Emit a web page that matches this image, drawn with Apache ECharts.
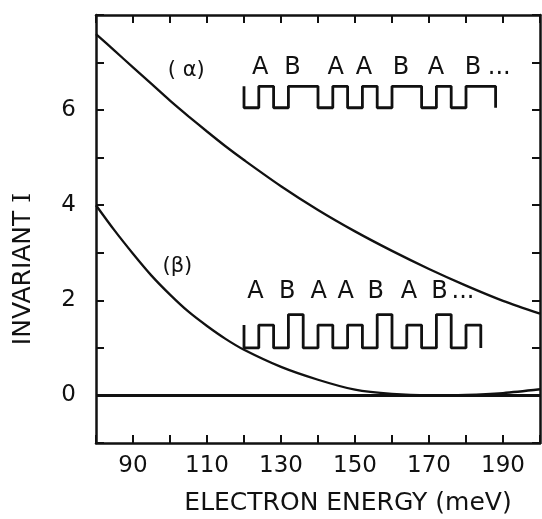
<!DOCTYPE html>
<html>
<head>
<meta charset="utf-8">
<script src="https://cdn.jsdelivr.net/npm/echarts@6/dist/echarts.min.js"></script>
<style>
  html, body { margin: 0; padding: 0; background: #fff; }
  #chart { width: 542px; height: 519px; }
</style>
</head>
<body>
<div id="chart"></div>
<script>
// curves (energy in meV, invariant I)
const energies = [80, 85, 90, 95, 100, 105, 110, 115, 120, 130, 140, 150, 160, 170, 180, 190, 200];
const alphaValues = [7.6, 7.25, 6.9, 6.55, 6.2, 5.87, 5.55, 5.24, 4.95, 4.4, 3.9, 3.45, 3.04, 2.66, 2.31, 1.99, 1.72];
const betaValues = [4.0, 3.47, 2.98, 2.52, 2.12, 1.76, 1.46, 1.19, 0.96, 0.6, 0.33, 0.12, 0.03, 0.0, 0.01, 0.05, 0.13];

const xTickLabels = [90, 110, 130, 150, 170, 190];
const yTickLabels = [0, 2, 4, 6];

// inset (alpha): square wave, wells and barriers
const alphaWaveEdges = [120, 124, 128, 132, 140, 144, 148, 152, 156, 160, 168, 172, 176, 180, 188];
const alphaWaveKinds = ['w', 'b', 'w', 'b', 'w', 'b', 'w', 'b', 'w', 'b', 'w', 'b', 'w', 'b'];
const alphaWaveLevels = { w: 6.05, b: 6.5 };
const alphaLetters = ['A', 'B', 'A', 'A', 'B', 'A', 'B', '...'];
const alphaLetterX = [124.4, 133.1, 144.8, 152.4, 162.4, 171.9, 181.9, 189];
const alphaLetterY = 6.88;

// inset (beta): low / tall barriers
const betaWaveEdges = [120, 124, 128, 132, 136, 140, 144, 148, 152, 156, 160, 164, 168, 172, 176, 180, 184];
const betaWaveKinds = ['w', 'l', 'w', 't', 'w', 'l', 'w', 'l', 'w', 't', 'w', 'l', 'w', 't', 'w', 'l'];
const betaWaveLevels = { w: 1.0, l: 1.48, t: 1.7 };
const betaLetters = ['A', 'B', 'A', 'A', 'B', 'A', 'B', '...'];
const betaLetterX = [123.1, 131.7, 140.2, 147.5, 155.6, 164.6, 172.8, 179.2];
const betaLetterY = 2.17;

const curveTags = ['( α)', '(β)'];
const curveTagX = [104.4, 102];
const curveTagY = [6.84, 2.72];

const INK = '#111';
const FONT = 'DejaVu Sans';

function wavePoints(edges, kinds, levels, startLevel, endLevel) {
    let pts = [[edges[0], startLevel]];
    for (let i = 0; i < kinds.length; i++) {
        pts.push([edges[i], levels[kinds[i]]]);
        pts.push([edges[i + 1], levels[kinds[i]]]);
    }
    pts.push([edges[edges.length - 1], endLevel]);
    return pts;
}

const alphaWave = wavePoints(alphaWaveEdges, alphaWaveKinds, alphaWaveLevels, alphaWaveLevels.b, alphaWaveLevels.w);
const betaWave = wavePoints(betaWaveEdges, betaWaveKinds, betaWaveLevels, betaWaveLevels.l, betaWaveLevels.w);

// text placed at data coordinates: [x, y, text, fontSize]
let textItems = [];
alphaLetterX.forEach((x, i) => textItems.push([x, alphaLetterY, alphaLetters[i], 24]));
betaLetterX.forEach((x, i) => textItems.push([x, betaLetterY, betaLetters[i], 24]));
curveTags.forEach((t, i) => textItems.push([curveTagX[i], curveTagY[i], t, 21]));

const chart = echarts.init(document.getElementById('chart'));

const axisLineStyle = { color: INK, width: 2.5 };
const tickStyle = { show: true, inside: true, length: 8, lineStyle: { color: INK, width: 2 } };

chart.setOption({
    animation: false,
    backgroundColor: '#fff',
    grid: { left: 96, right: 2, top: 15, bottom: 76, outerBoundsMode: 'none' },
    xAxis: [{
        type: 'value',
        min: 80,
        max: 200,
        interval: 10,
        position: 'bottom',
        axisLine: { onZero: false, lineStyle: axisLineStyle },
        axisTick: tickStyle,
        splitLine: { show: false },
        axisLabel: {
            color: INK, fontFamily: FONT, fontSize: 23, margin: 12,
            formatter: v => xTickLabels.includes(v) ? String(v) : ''
        },
        name: 'ELECTRON ENERGY (meV)',
        nameLocation: 'middle',
        nameGap: 48,
        nameTextStyle: { color: INK, fontFamily: FONT, fontSize: 25, padding: [0, 0, 0, 60] }
    }, {
        type: 'value',
        min: 80,
        max: 200,
        interval: 10,
        position: 'top',
        axisLine: { onZero: false, lineStyle: axisLineStyle },
        axisTick: tickStyle,
        splitLine: { show: false },
        axisLabel: { show: false }
    }],
    yAxis: [{
        type: 'value',
        min: -1,
        max: 8,
        interval: 1,
        position: 'left',
        axisLine: { show: true, onZero: false, lineStyle: axisLineStyle },
        axisTick: tickStyle,
        splitLine: { show: false },
        axisLabel: {
            color: INK, fontFamily: FONT, fontSize: 23, margin: 20,
            formatter: v => yTickLabels.includes(v) ? String(v) : ''
        },
        name: 'INVARIANT {s|I}',
        nameLocation: 'middle',
        nameGap: 60,
        nameTextStyle: {
            color: INK, fontFamily: FONT, fontSize: 25, padding: [0, 80, 0, 0],
            rich: { s: { fontFamily: 'DejaVu Serif', fontSize: 25, color: INK } }
        }
    }, {
        type: 'value',
        min: -1,
        max: 8,
        interval: 1,
        position: 'right',
        axisLine: { show: true, onZero: false, lineStyle: axisLineStyle },
        axisTick: tickStyle,
        splitLine: { show: false },
        axisLabel: { show: false }
    }],
    series: [{
        name: 'alpha',
        type: 'line',
        smooth: 0.3,
        symbol: 'none',
        lineStyle: { color: INK, width: 2.3 },
        data: energies.map((e, i) => [e, alphaValues[i]]),
        markLine: {
            silent: true,
            symbol: 'none',
            label: { show: false },
            lineStyle: { color: INK, width: 3.2, type: 'solid' },
            data: [{ yAxis: 0 }]
        }
    }, {
        name: 'beta',
        type: 'line',
        smooth: 0.3,
        symbol: 'none',
        lineStyle: { color: INK, width: 2.3 },
        data: energies.map((e, i) => [e, betaValues[i]])
    }, {
        name: 'alphaWave',
        type: 'line',
        symbol: 'none',
        lineStyle: { color: INK, width: 2.8 },
        data: alphaWave
    }, {
        name: 'betaWave',
        type: 'line',
        symbol: 'none',
        lineStyle: { color: INK, width: 2.8 },
        data: betaWave
    }, {
        name: 'texts',
        type: 'custom',
        silent: true,
        data: textItems,
        renderItem: function (params, api) {
            const p = api.coord([api.value(0), api.value(1)]);
            const item = textItems[params.dataIndex];
            return {
                type: 'text',
                x: p[0],
                y: p[1],
                style: {
                    text: item[2],
                    fill: INK,
                    font: item[3] + 'px "' + FONT + '"',
                    align: 'center',
                    verticalAlign: 'middle'
                }
            };
        }
    }]
});
</script>
</body>
</html>
